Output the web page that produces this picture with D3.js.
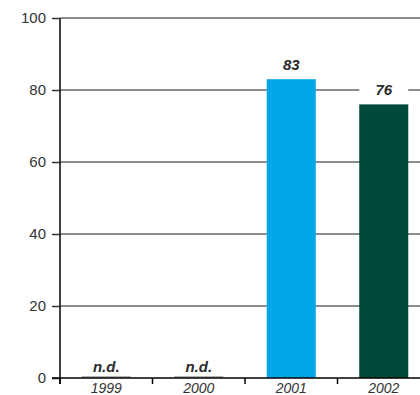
<!DOCTYPE html>
<html><head><meta charset="utf-8">
<script src="https://cdn.jsdelivr.net/npm/d3@7"></script>
<style>body{margin:0;background:#fff}svg{display:block}</style>
</head><body>
<script>
const categories = ["1999", "2000", "2001", "2002"];
const values = [null, null, 83, 76];
const barLabels = ["n.d.", "n.d.", "83", "76"];
const colors = ["#00a6e6", "#00a6e6", "#00a6e6", "#004a3b"];
const yTicks = [0, 20, 40, 60, 80, 100];

const W = 420, H = 395;
const m = {left: 60, top: 18, right: -10, bottom: 17};
const svg = d3.select("body").append("svg").attr("width", W).attr("height", H);
const x = d3.scaleBand().domain(categories).range([m.left, W - m.right]).paddingInner(0.47).paddingOuter(0.235);
const y = d3.scaleLinear().domain([0, 100]).range([H - m.bottom, m.top]);
const font = "'Liberation Sans', Arial, sans-serif";

// gridlines
svg.append("g").selectAll("line").data(yTicks.filter(d => d > 0)).join("line")
  .attr("x1", m.left).attr("x2", W).attr("y1", d => y(d)).attr("y2", d => y(d))
  .attr("stroke", "#666").attr("stroke-width", 1.5);

// label backgrounds
svg.append("g").selectAll("rect").data(categories.map((c, i) => ({c, v: values[i]})).filter(d => d.v != null)).join("rect")
  .attr("x", d => x(d.c)).attr("width", x.bandwidth())
  .attr("y", d => y(d.v) - 22).attr("height", 22).attr("fill", "#fff");

// bars
svg.append("g").selectAll("rect").data(categories.map((c, i) => ({c, v: values[i], col: colors[i]})).filter(d => d.v != null)).join("rect")
  .attr("x", d => x(d.c)).attr("width", x.bandwidth())
  .attr("y", d => y(d.v)).attr("height", d => y(0) - y(d.v)).attr("fill", d => d.col);

// zero-height markers for n.d.
svg.append("g").selectAll("line").data(categories.filter((c, i) => values[i] == null)).join("line")
  .attr("x1", d => x(d)).attr("x2", d => x(d) + x.bandwidth())
  .attr("y1", y(0) - 1).attr("y2", y(0) - 1).attr("stroke", "#666").attr("stroke-width", 1);

// value labels
svg.append("g").selectAll("text").data(categories.map((c, i) => ({c, v: values[i], t: barLabels[i]}))).join("text")
  .attr("x", d => x(d.c) + x.bandwidth() / 2)
  .attr("y", d => (d.v == null ? y(0) - 6 : y(d.v) - 9))
  .attr("text-anchor", "middle").attr("font-family", font).attr("font-size", 15)
  .attr("font-weight", "bold").attr("font-style", "italic").attr("fill", "#2b2b2b")
  .text(d => d.t);

// y axis
const ya = svg.append("g").attr("transform", `translate(${m.left},0)`)
  .call(d3.axisLeft(y).tickValues(yTicks).tickSize(8).tickPadding(6).tickFormat(d3.format("d")));
ya.select(".domain").attr("stroke", "#000").attr("stroke-width", 1.5).attr("d", `M0,${m.top}V${y(0) + 6}`);
ya.selectAll(".tick line").attr("stroke", "#333").attr("stroke-width", 1.5);
ya.selectAll("text").attr("font-family", font).attr("font-size", 15).attr("fill", "#333");

// x axis
const xTickPos = categories.map(c => x(c) - x.step() * x.paddingInner() / 2);
svg.append("line").attr("x1", m.left - 8).attr("x2", W).attr("y1", y(0)).attr("y2", y(0))
  .attr("stroke", "#000").attr("stroke-width", 1.5);
svg.append("g").selectAll("line").data(xTickPos).join("line")
  .attr("x1", d => d).attr("x2", d => d).attr("y1", y(0)).attr("y2", y(0) + 6)
  .attr("stroke", "#000").attr("stroke-width", 1.5);
svg.append("g").selectAll("text").data(categories).join("text")
  .attr("x", d => x(d) + x.bandwidth() / 2).attr("y", y(0) + 14.5)
  .attr("text-anchor", "middle").attr("font-family", font).attr("font-size", 14)
  .attr("font-style", "italic").attr("fill", "#333").text(d => d);
</script>
</body></html>
